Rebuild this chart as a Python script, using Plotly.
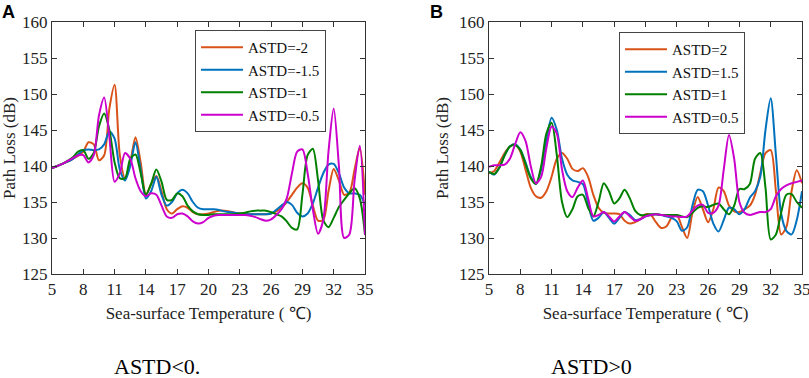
import plotly.graph_objects as go

temps = [5 + 0.5 * i for i in range(61)]

a_m2 = [139.7, 140.0, 140.3, 140.6, 141.0, 141.4, 142.0, 143.3, 143.0, 140.8,
        141.5, 148.0, 151.3, 141.5, 138.3, 140.5, 144.0, 140.5, 136.0, 137.5,
        138.6, 136.5, 134.0, 133.4, 134.0, 134.4, 134.2, 133.6, 133.3, 133.3,
        133.4, 133.6, 133.8, 133.8, 133.7, 133.5, 133.4, 133.3, 133.3, 133.3,
        133.3, 133.3, 133.4, 133.7, 134.2, 135.0, 136.0, 137.0, 137.6, 137.0,
        134.5, 132.4, 132.5, 136.5, 139.6, 138.0, 136.0, 136.3, 139.5, 142.5,
        136.0]
a_m15 = [139.7, 140.0, 140.3, 140.6, 141.0, 141.6, 142.2, 142.3, 142.2, 142.3,
         143.0, 144.8, 143.8, 139.5, 138.0, 140.0, 143.3, 139.5, 135.5, 136.5,
         138.5, 136.0, 134.5, 135.0, 136.2, 136.7, 136.2, 135.0, 134.2, 134.0,
         134.0, 134.0, 133.9, 133.7, 133.6, 133.5, 133.4, 133.3, 133.3, 133.3,
         133.3, 133.3, 133.4, 133.9, 134.5, 135.0, 134.6, 133.5, 133.0, 133.4,
         134.8, 137.0, 139.0, 140.2, 140.3, 139.0, 137.0, 136.2, 136.2, 136.0,
         134.6]
a_m1 = [139.7, 140.0, 140.3, 140.7, 141.2, 142.0, 142.2, 141.0, 141.8, 145.5,
        147.3, 145.0, 140.5, 138.3, 138.3, 141.0, 141.6, 139.0, 136.0, 137.5,
        139.5, 137.8, 135.3, 135.3, 136.2, 135.8, 134.5, 133.7, 133.3, 133.2,
        133.2, 133.3, 133.3, 133.3, 133.3, 133.3, 133.4, 133.5, 133.7, 133.8,
        133.8, 133.8, 133.6, 133.3, 133.0, 132.3, 131.4, 131.2, 136.0, 141.5,
        142.4, 138.0, 132.5, 131.5, 132.8, 134.3, 135.3, 136.2, 136.9, 135.5,
        130.5]
a_m05 = [139.7, 140.0, 140.3, 140.7, 141.1, 141.5, 141.5, 140.5, 141.5, 147.0,
         149.5, 144.0, 137.8, 139.0, 141.8, 141.0, 138.3, 136.5, 135.8, 136.2,
         136.0, 134.5, 133.0, 132.8, 133.3, 133.4, 133.0, 132.3, 132.0, 132.2,
         132.8, 133.1, 133.2, 133.2, 133.2, 133.2, 133.2, 133.2, 133.1, 132.9,
         132.6, 132.4, 132.6, 133.2, 134.0, 135.5, 139.0, 142.0, 142.3, 139.0,
         134.0, 130.6, 132.5, 142.0, 148.0, 140.0, 130.0, 130.5, 138.0, 142.8,
         130.4]

b_2 = [139.0, 139.3, 140.5, 141.8, 142.7, 143.0, 142.0, 139.5, 137.0, 135.8,
       135.6, 136.5, 138.5, 141.0, 141.8, 141.0, 139.6, 139.3, 139.7, 138.5,
       136.0, 134.2, 133.5, 133.4, 133.4, 133.3, 132.4, 132.0, 132.2, 132.6,
       133.3, 133.2, 132.2, 131.4, 131.6, 132.8, 133.2, 131.5, 130.0, 133.5,
       135.7, 134.0, 132.2, 134.0, 137.0, 136.5, 134.5, 133.7, 133.6, 134.0,
       134.5, 136.0, 139.0, 141.8, 142.2, 136.5, 130.5, 131.5, 136.5, 139.4,
       137.6]
b_15 = [139.2, 138.8, 139.8, 141.5, 142.7, 143.0, 142.3, 140.5, 138.5, 137.5,
        139.5, 143.5, 146.7, 145.0, 141.0, 138.8, 138.0, 137.8, 137.5, 134.8,
        132.4, 132.8, 133.6, 132.8, 132.0, 132.8, 133.6, 133.2, 132.5, 132.6,
        133.0, 133.2, 133.3, 133.2, 133.0, 132.8, 132.3, 131.0, 131.5, 134.5,
        136.7, 136.5, 134.5, 132.0, 130.9, 132.5, 134.2, 134.0, 133.3, 134.0,
        135.6, 136.5, 138.5, 145.0, 149.4, 141.5, 133.4, 131.0, 130.5, 132.5,
        136.5]
b_1 = [139.2, 138.9, 139.8, 141.5, 142.7, 142.9, 142.2, 140.3, 138.3, 137.5,
       140.0, 144.5, 146.0, 141.5, 135.0, 132.9, 134.0, 135.8, 136.0, 134.2,
       133.0, 135.0, 137.6, 136.5, 134.8, 135.5, 136.7, 135.5, 133.8, 133.2,
       133.2, 133.3, 133.3, 133.2, 133.2, 133.2, 133.2, 133.0, 132.9, 133.5,
       134.2, 134.4, 134.3, 134.6, 134.8, 134.0, 133.3, 134.5, 136.8, 136.8,
       137.5, 141.0, 141.8, 137.0, 129.8, 130.5, 133.5, 136.0, 136.1, 135.0,
       134.2]
b_05 = [139.9, 140.1, 140.1, 140.2, 141.0, 143.0, 144.7, 143.5, 140.0, 137.6,
        138.5, 142.5, 145.5, 144.5, 139.5, 136.5, 135.7, 137.0, 138.0, 135.5,
        133.0, 133.2, 133.6, 133.0, 132.3, 133.0, 133.6, 133.0, 132.4, 132.6,
        133.0, 133.2, 133.3, 133.2, 133.1, 133.0, 133.0, 132.9, 133.0, 133.8,
        134.5, 134.6, 133.5, 133.5, 134.5, 139.5, 144.3, 141.0, 135.0, 133.5,
        133.2, 133.4, 133.6, 133.6, 134.0, 135.8, 136.8, 137.3, 137.6, 137.8,
        138.0]

names_a = ["ASTD=-2", "ASTD=-1.5", "ASTD=-1", "ASTD=-0.5"]
names_b = ["ASTD=2", "ASTD=1.5", "ASTD=1", "ASTD=0.5"]
colors = ["#D95319", "#0072BD", "#008000", "#CC00CC"]
x_ticks = [5, 8, 11, 14, 17, 20, 23, 26, 29, 32, 35]
y_ticks = [125, 130, 135, 140, 145, 150, 155, 160]

W, H = 809, 378
SERIF = "Liberation Serif, Times New Roman, serif"

fig = go.Figure()
for name, col, ys in zip(names_a, colors, [a_m2, a_m15, a_m1, a_m05]):
    fig.add_trace(go.Scatter(x=temps, y=ys, name=name, mode="lines",
                             line=dict(color=col, width=2, shape="spline", smoothing=0.8),
                             xaxis="x", yaxis="y", legend="legend"))
for name, col, ys in zip(names_b, colors, [b_2, b_15, b_1, b_05]):
    fig.add_trace(go.Scatter(x=temps, y=ys, name=name, mode="lines",
                             line=dict(color=col, width=2, shape="spline", smoothing=0.8),
                             xaxis="x2", yaxis="y2", legend="legend2"))

y0, y1 = 1 - 274 / H, 1 - 22 / H
axis_common = dict(showline=True, linecolor="#333333", linewidth=1, mirror="ticks",
                   ticks="inside", ticklen=5, tickcolor="#333333", showgrid=False,
                   zeroline=False, automargin=False, ticklabeloverflow="allow",
                   tickfont=dict(family=SERIF, size=17, color="#222222"))
title_font = dict(family=SERIF, size=17, color="#222222")
legend_font = dict(family=SERIF, size=15, color="#111111")

fig.update_layout(
    width=W, height=H, margin=dict(l=0, r=0, t=0, b=0),
    paper_bgcolor="white", plot_bgcolor="white",
    xaxis=dict(domain=[52 / W, 365 / W], range=[5, 35], tickvals=x_ticks, anchor="y",
               title=dict(text="Sea-surface Temperature ( ℃)", font=title_font, standoff=8),
               **axis_common),
    yaxis=dict(domain=[y0, y1], range=[125, 160], tickvals=y_ticks, anchor="x",
               title=dict(text="Path Loss (dB)", font=title_font, standoff=6),
               **axis_common),
    xaxis2=dict(domain=[489 / W, 802 / W], range=[5, 35], tickvals=x_ticks, anchor="y2",
                title=dict(text="Sea-surface Temperature ( ℃)", font=title_font, standoff=8),
                **axis_common),
    yaxis2=dict(domain=[y0, y1], range=[125, 160], tickvals=y_ticks, anchor="x2",
                title=dict(text="Path Loss (dB)", font=title_font, standoff=6),
                **axis_common),
    legend=dict(x=195 / W, y=1 - 30 / H, xanchor="left", yanchor="top",
                bgcolor="white", bordercolor="#444444", borderwidth=1,
                font=legend_font, tracegroupgap=0, itemwidth=42),
    legend2=dict(x=619 / W, y=1 - 32 / H, xanchor="left", yanchor="top",
                 bgcolor="white", bordercolor="#444444", borderwidth=1,
                 font=legend_font, tracegroupgap=0, itemwidth=42),
    showlegend=True,
)

fig.add_annotation(text="<b>A</b>", x=0, y=1, xref="paper", yref="paper",
                   xanchor="left", yanchor="top", showarrow=False,
                   font=dict(family="Liberation Sans, Arial, sans-serif", size=18, color="black"))
fig.add_annotation(text="<b>B</b>", x=428 / W, y=1, xref="paper", yref="paper",
                   xanchor="left", yanchor="top", showarrow=False,
                   font=dict(family="Liberation Sans, Arial, sans-serif", size=18, color="black"))
fig.add_annotation(text="ASTD&lt;0.", x=157 / W, y=1 - 366 / H, xref="paper", yref="paper",
                   xanchor="center", yanchor="middle", showarrow=False,
                   font=dict(family=SERIF, size=22, color="black"))
fig.add_annotation(text="ASTD&gt;0", x=591 / W, y=1 - 366 / H, xref="paper", yref="paper",
                   xanchor="center", yanchor="middle", showarrow=False,
                   font=dict(family=SERIF, size=22, color="black"))

fig.write_html("out.html", config={"displayModeBar": False},
               post_script="document.body.style.margin='0';document.body.style.overflow='hidden';")
